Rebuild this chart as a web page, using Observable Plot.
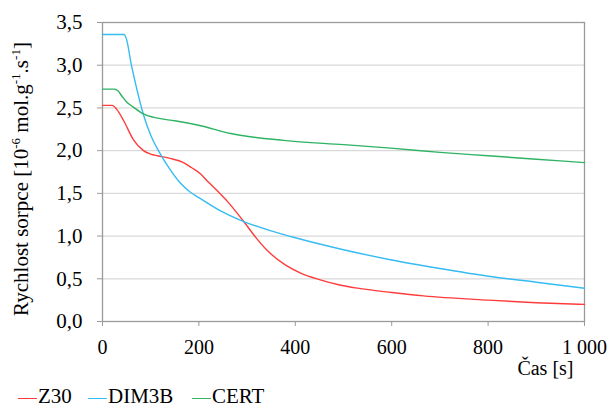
<!DOCTYPE html>
<html><head><meta charset="utf-8">
<script src="https://cdn.jsdelivr.net/npm/d3@7"></script>
<script src="https://cdn.jsdelivr.net/npm/@observablehq/plot@0.6"></script>
<style>
body{margin:0;background:#fff;}
#legend{position:relative;height:21px;font-size:21px;color:#000;}
#legend span{position:absolute;top:-2px;white-space:nowrap;line-height:21px;}
#legend i{display:inline-block;width:19px;height:0;border-top:1.5px solid;vertical-align:middle;margin-right:1px;}
</style></head>
<body><div id="chart"></div><div id="legend" style="font-family:'Liberation Serif'"></div>
<script>
const seriesNames = ["Z30", "DIM3B", "CERT"];
const seriesColors = ["#ff3c3c", "#36bcf0", "#2db362"];
const tZ30 = [0,20,30,44,64,85,100,114,140,168,185,203,220,238,260,293,320,342,380,410,450,490,529,600,666,800,900,1000];
const vZ30 = [2.53,2.53,2.48,2.35,2.13,2.0,1.96,1.94,1.91,1.86,1.80,1.73,1.63,1.53,1.40,1.17,0.97,0.83,0.66,0.57,0.49,0.43,0.39,0.34,0.30,0.25,0.22,0.20];
const tDIM = [0,45,50,60,70,85,100,116,140,160,183,200,250,293,350,400,500,600,700,800,900,1000];
const vDIM = [3.36,3.36,3.30,3.0,2.75,2.42,2.18,2.0,1.78,1.63,1.51,1.45,1.28,1.17,1.06,0.98,0.84,0.72,0.62,0.53,0.46,0.39];
const tCERT = [0,25,32,40,50,64,85,114,150,197,266,376,500,598,700,800,900,1000];
const vCERT = [2.72,2.72,2.70,2.64,2.57,2.51,2.43,2.38,2.35,2.30,2.20,2.12,2.07,2.03,1.98,1.94,1.90,1.86];
const xTicks = [0,200,400,600,800,1000];
const yTicks = [0,0.5,1,1.5,2,2.5,3,3.5];
const xLabel = "Čas [s]";
const yLabelParts = [["Rychlost sorpce [10", false], ["-6", true], [" mol.g", false], ["-1", true], [".s", false], ["-1", true], ["]", false]];
const yLabel = yLabelParts.map(p => p[0]).join("");

const data = [];
[[tZ30,vZ30],[tDIM,vDIM],[tCERT,vCERT]].forEach(([ts,vs],i)=>{
  ts.forEach((t,j)=>data.push({t, v: vs[j], s: seriesNames[i]}));
});
const fmtX = d => d3.format(",")(d).replace(",", " ");
const fmtY = d => d.toFixed(1).replace(".", ",");

const chart = Plot.plot({
  width: 613, height: 388,
  marginLeft: 102, marginRight: 29, marginTop: 22, marginBottom: 67,
  style: "font-family:'Liberation Serif';font-size:20px;color:#000;background:#fff;",
  x: {domain: [0,1000]},
  y: {domain: [0,3.5]},
  color: {domain: seriesNames, range: seriesColors},
  marks: [
    Plot.gridY(yTicks, {stroke: "#d9d9d9", strokeOpacity: 1, strokeWidth: 1.2}),
    Plot.frame({stroke: "#9a9a9a", strokeWidth: 1.3}),
    Plot.axisX({ticks: xTicks, tickFormat: fmtX, tickSize: 5, tickPadding: 13, stroke: "#9a9a9a", fontSize: 20, label: null}),
    Plot.axisY({ticks: yTicks, tickFormat: fmtY, tickSize: 5, tickPadding: 15, stroke: "#9a9a9a", fontSize: 21,
      label: yLabel, labelAnchor: "center", labelArrow: "none", labelOffset: 89}),
    Plot.text([xLabel], {text: d => d, frameAnchor: "bottom-right", textAnchor: "end", dx: -11, dy: 53, fontSize: 20, fill: "#000"}),
    Plot.line(data, {x: "t", y: "v", z: "s", stroke: "s", strokeWidth: 1.4, curve: "monotone-x"})
  ]
});
d3.select(chart).selectAll("text").style("font-family", "'Liberation Serif'");
// rich y label with superscripts
d3.select(chart).selectAll("text").filter(function(){ return this.textContent === yLabel; }).each(function(){
  const t = d3.select(this);
  t.text("");
  let prevSup = false;
  yLabelParts.forEach(([s, sup], i) => {
    const ts = t.append("tspan").text(s);
    if (i === 0) ts.attr("dx", -7);
    if (sup) ts.attr("font-size", 13).attr("dy", -8);
    else if (prevSup) ts.attr("dy", 8);
    prevSup = sup;
  });
});
document.getElementById("chart").appendChild(chart);

const legendX = [18, 88, 192];
const lg = document.getElementById("legend");
seriesNames.forEach((n,i)=>{
  const s = document.createElement("span");
  s.style.left = legendX[i] + "px";
  s.style.fontFamily = "'Liberation Serif'";
  s.innerHTML = `<i style="border-color:${seriesColors[i]}"></i>${n}`;
  lg.appendChild(s);
});
</script></body></html>
